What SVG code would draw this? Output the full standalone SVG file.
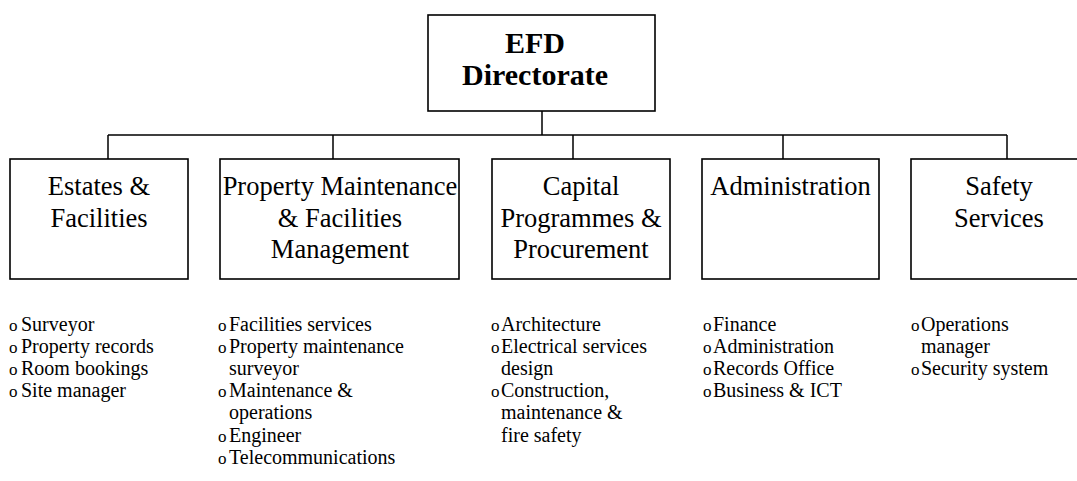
<svg xmlns="http://www.w3.org/2000/svg" width="1077" height="481" viewBox="0 0 1077 481">
<style>
.box{fill:#fff;stroke:#000;stroke-width:1.6}
.conn{fill:none;stroke:#000;stroke-width:1.5}
.t{font-family:"Liberation Serif","Times New Roman",serif;font-size:26.5px;fill:#000;text-anchor:middle}
.tb{font-family:"Liberation Serif","Times New Roman",serif;font-size:30px;font-weight:bold;fill:#000;text-anchor:middle}
.l{font-family:"Liberation Serif","Times New Roman",serif;font-size:20px;fill:#000}
.b{font-size:17px}
</style>
<rect width="1077" height="481" fill="#fff"/>
<g id="connectors">
<path class="conn" d="M542,111 V135 M108,135 H1007 M108,135 V159 M333,135 V159 M573,135 V159 M783,135 V159 M1007,135 V159"/>
</g>
<g id="efd">
<rect class="box" x="428" y="15" width="227" height="96"/>
<text class="tb" x="535" y="53">EFD</text>
<text class="tb" x="535" y="85">Directorate</text>
</g>
<g id="estates">
<rect class="box" x="10" y="159" width="178" height="120"/>
<text class="t" x="99" y="195">Estates &amp;</text>
<text class="t" x="99" y="226.5">Facilities</text>
</g>
<g id="property">
<rect class="box" x="220" y="159" width="239" height="120"/>
<text class="t" x="340" y="195">Property Maintenance</text>
<text class="t" x="340" y="226.5">&amp; Facilities</text>
<text class="t" x="340" y="258">Management</text>
</g>
<g id="capital">
<rect class="box" x="492" y="159" width="178" height="120"/>
<text class="t" x="581" y="195">Capital</text>
<text class="t" x="581" y="226.5">Programmes &amp;</text>
<text class="t" x="581" y="258">Procurement</text>
</g>
<g id="administration">
<rect class="box" x="702" y="159" width="177" height="120"/>
<text class="t" x="790.5" y="195">Administration</text>
</g>
<g id="safety">
<rect class="box" x="911" y="159" width="180" height="120"/>
<text class="t" x="999" y="195">Safety</text>
<text class="t" x="999" y="226.5">Services</text>
</g>
<g id="list-estates">
<text class="l"><tspan class="b" x="9" y="330.5">o</tspan><tspan x="21">Surveyor</tspan><tspan class="b" x="9" y="352.7">o</tspan><tspan x="21">Property records</tspan><tspan class="b" x="9" y="374.9">o</tspan><tspan x="21">Room bookings</tspan><tspan class="b" x="9" y="397.1">o</tspan><tspan x="21">Site manager</tspan></text>
</g>
<g id="list-property">
<text class="l"><tspan class="b" x="218" y="330.5">o</tspan><tspan x="229">Facilities services</tspan><tspan class="b" x="218" y="352.7">o</tspan><tspan x="229">Property maintenance</tspan><tspan x="229" y="374.9">surveyor</tspan><tspan class="b" x="218" y="397.1">o</tspan><tspan x="229">Maintenance &amp;</tspan><tspan x="229" y="419.3">operations</tspan><tspan class="b" x="218" y="441.5">o</tspan><tspan x="229">Engineer</tspan><tspan class="b" x="218" y="463.7">o</tspan><tspan x="229">Telecommunications</tspan></text>
</g>
<g id="list-capital">
<text class="l"><tspan class="b" x="491" y="330.5">o</tspan><tspan x="501">Architecture</tspan><tspan class="b" x="491" y="352.7">o</tspan><tspan x="501">Electrical services</tspan><tspan x="501" y="374.9">design</tspan><tspan class="b" x="491" y="397.1">o</tspan><tspan x="501">Construction,</tspan><tspan x="501" y="419.3">maintenance &amp;</tspan><tspan x="501" y="441.5">fire safety</tspan></text>
</g>
<g id="list-administration">
<text class="l"><tspan class="b" x="703" y="330.5">o</tspan><tspan x="713">Finance</tspan><tspan class="b" x="703" y="352.7">o</tspan><tspan x="713">Administration</tspan><tspan class="b" x="703" y="374.9">o</tspan><tspan x="713">Records Office</tspan><tspan class="b" x="703" y="397.1">o</tspan><tspan x="713">Business &amp; ICT</tspan></text>
</g>
<g id="list-safety">
<text class="l"><tspan class="b" x="911" y="330.5">o</tspan><tspan x="921">Operations</tspan><tspan x="921" y="352.7">manager</tspan><tspan class="b" x="911" y="374.9">o</tspan><tspan x="921">Security system</tspan></text>
</g>
</svg>
